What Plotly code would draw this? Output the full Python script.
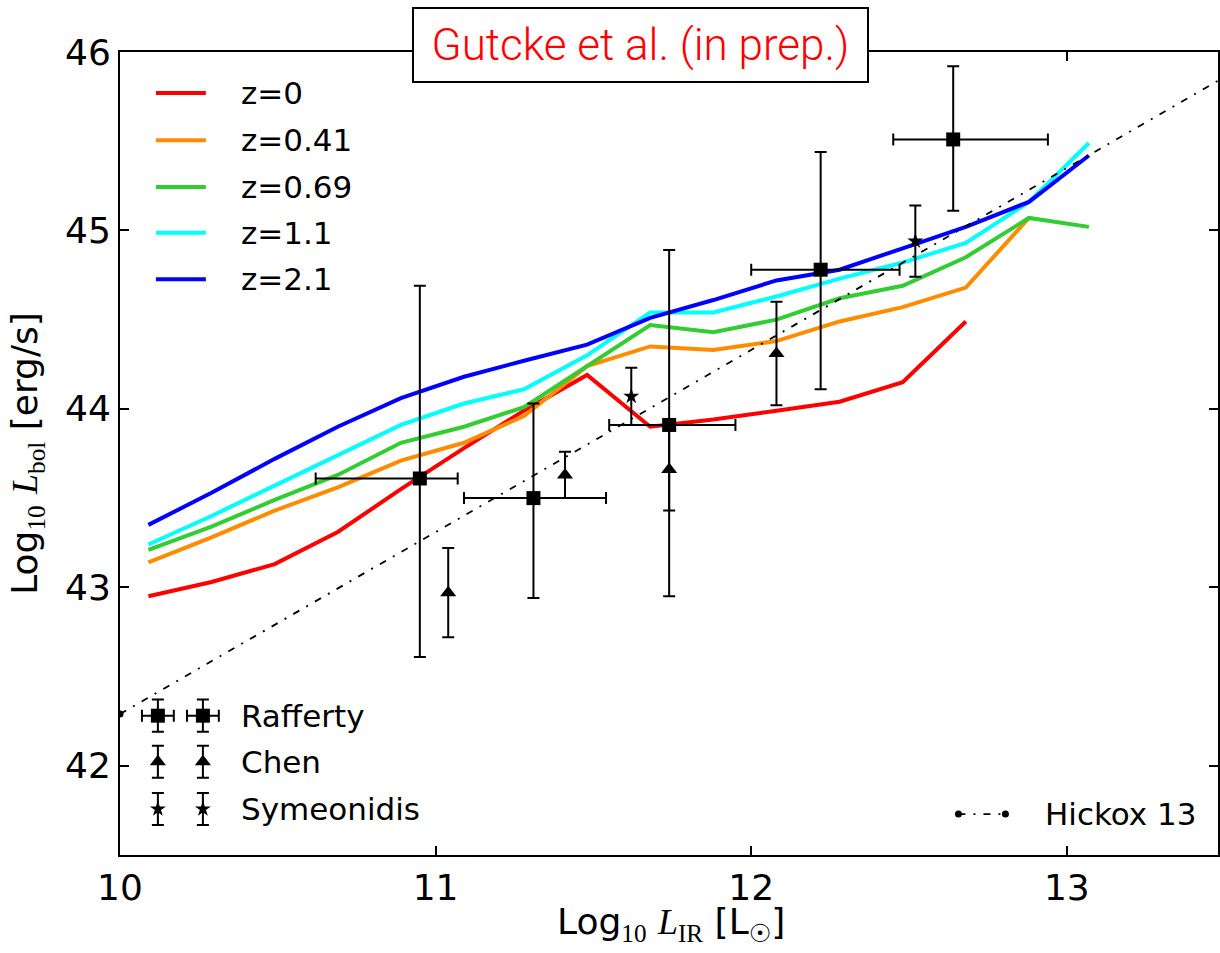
import plotly.graph_objects as go

# ---- simulation curves: log10 L_IR bin centres and log10 L_bol per redshift ----
lir_bins = [10.09, 10.29, 10.49, 10.69, 10.89, 11.09, 11.28, 11.48,
            11.68, 11.88, 12.08, 12.28, 12.48, 12.68, 12.88, 13.07]

lbol_z0 = [42.95, 43.03, 43.13, 43.31, 43.55, 43.78, 43.99, 44.19,
           43.90, 43.94, 43.99, 44.04, 44.15, 44.49]
lbol_z041 = [43.14, 43.28, 43.43, 43.56, 43.71, 43.81, 43.96, 44.24,
             44.35, 44.33, 44.38, 44.49, 44.57, 44.68, 45.07]
lbol_z069 = [43.21, 43.34, 43.49, 43.63, 43.81, 43.90, 44.01, 44.24,
             44.47, 44.43, 44.50, 44.62, 44.69, 44.85, 45.07, 45.02]
lbol_z11 = [43.24, 43.40, 43.57, 43.74, 43.91, 44.03, 44.11, 44.30,
            44.54, 44.54, 44.63, 44.73, 44.82, 44.93, 45.16, 45.49]
lbol_z21 = [43.35, 43.53, 43.72, 43.90, 44.06, 44.18, 44.27, 44.36,
            44.51, 44.61, 44.72, 44.78, 44.90, 45.02, 45.16, 45.42]

curve_labels = ["z=0", "z=0.41", "z=0.69", "z=1.1", "z=2.1"]
curve_colors = ["#ff0000", "#ff8c00", "#32cd32", "#00ffff", "#0000ff"]
curve_values = [lbol_z0, lbol_z041, lbol_z069, lbol_z11, lbol_z21]

# ---- observations ----
raf_x = [10.95, 11.31, 11.74, 12.22, 12.64]
raf_y = [43.61, 43.50, 43.91, 44.78, 45.51]
raf_xerr_minus = [0.33, 0.22, 0.19, 0.22, 0.19]
raf_xerr_plus = [0.12, 0.23, 0.21, 0.25, 0.30]
raf_yerr_minus = [1.00, 0.56, 0.96, 0.67, 0.40]
raf_yerr_plus = [1.08, 0.53, 0.98, 0.66, 0.41]

chen_x = [11.04, 11.41, 11.74, 12.08]
chen_y = [42.97, 43.63, 43.66, 44.31]
chen_yerr = [0.25, 0.13, 0.23, 0.29]

sym_x = [11.62, 12.52]
sym_y = [44.07, 44.94]
sym_yerr = [0.16, 0.20]

# Hickox et al. 2013 relation
hickox_x = [10.0, 13.5]
hickox_y = [42.29, 45.86]

x_ticks = [10, 11, 12, 13]
y_ticks = [42, 43, 44, 45, 46]

SANS = "DejaVu Sans"
SERIF = "Liberation Serif"
HICKOX_DASH = "7px,8px,2px,8px"

fig = go.Figure()

for vals, name, col in zip(curve_values, curve_labels, curve_colors):
    fig.add_trace(go.Scatter(
        x=lir_bins[:len(vals)], y=vals, mode="lines", name=name,
        line=dict(color=col, width=4), showlegend=False))

fig.add_trace(go.Scatter(
    x=hickox_x, y=hickox_y, mode="lines+markers", name="Hickox 13",
    line=dict(color="black", width=1.8, dash=HICKOX_DASH),
    marker=dict(color="black", size=7), cliponaxis=True, showlegend=False))

errstyle = dict(color="black", thickness=2, width=6)

fig.add_trace(go.Scatter(
    x=raf_x, y=raf_y, mode="markers", name="Rafferty",
    marker=dict(symbol="square", color="black", size=14),
    error_x=dict(type="data", symmetric=False, array=raf_xerr_plus,
                 arrayminus=raf_xerr_minus, **errstyle),
    error_y=dict(type="data", symmetric=False, array=raf_yerr_plus,
                 arrayminus=raf_yerr_minus, **errstyle),
    showlegend=False))

fig.add_trace(go.Scatter(
    x=chen_x, y=chen_y, mode="markers", name="Chen",
    marker=dict(symbol="triangle-up", color="black", size=14),
    error_y=dict(type="data", array=chen_yerr, **errstyle),
    showlegend=False))

fig.add_trace(go.Scatter(
    x=sym_x, y=sym_y, mode="markers", name="Symeonidis",
    marker=dict(symbol="star", color="black", size=12),
    error_y=dict(type="data", array=sym_yerr, **errstyle),
    showlegend=False))

# ---- hand-built legends on an overlay axis in plot-fraction units ----
leg_ax = dict(xaxis="x2", yaxis="y2", showlegend=False, hoverinfo="skip")
annotations = []

line_rows = [0.949, 0.890, 0.832, 0.775, 0.717]
for row, name, col in zip(line_rows, curve_labels, curve_colors):
    fig.add_trace(go.Scatter(x=[0.0327, 0.0782], y=[row, row], mode="lines",
                             line=dict(color=col, width=4), **leg_ax))
    annotations.append(dict(x=0.108, y=row, xref="paper", yref="paper",
                            text=name, showarrow=False, xanchor="left",
                            yanchor="middle",
                            font=dict(family=SANS, size=31, color="black")))

glyph_x = [0.0345, 0.0755]
obs_rows = [0.1735, 0.1162, 0.0573]
obs_names = ["Rafferty", "Chen", "Symeonidis"]
obs_symbols = ["square", "triangle-up", "star"]
obs_sizes = [14, 14, 12]
for i, (row, name, sym, sz) in enumerate(zip(obs_rows, obs_names, obs_symbols, obs_sizes)):
    tr = dict(x=glyph_x, y=[row, row], mode="markers",
              marker=dict(symbol=sym, color="black", size=sz),
              error_y=dict(type="constant", value=0.02, **errstyle))
    if i == 0:
        tr["error_x"] = dict(type="constant", value=0.0145, **errstyle)
    fig.add_trace(go.Scatter(**tr, **leg_ax))
    annotations.append(dict(x=0.108, y=row, xref="paper", yref="paper",
                            text=name, showarrow=False, xanchor="left",
                            yanchor="middle",
                            font=dict(family=SANS, size=31, color="black")))

fig.add_trace(go.Scatter(x=[0.7636, 0.8064], y=[0.051, 0.051], mode="lines+markers",
                         line=dict(color="black", width=1.8, dash=HICKOX_DASH),
                         marker=dict(color="black", size=7), **leg_ax))
annotations.append(dict(x=0.8409, y=0.051, xref="paper", yref="paper",
                        text="Hickox 13", showarrow=False, xanchor="left",
                        yanchor="middle",
                        font=dict(family=SANS, size=31, color="black")))

annotations.append(dict(x=0.4736, y=1.0087, xref="paper", yref="paper",
                        text="Gutcke et al. (in prep.)", showarrow=False,
                        xanchor="center", yanchor="middle",
                        width=451, height=70, borderpad=1, borderwidth=2,
                        bordercolor="black", bgcolor="white",
                        font=dict(family="Roboto", size=44, color="#ff0000",
                                  weight=300)))

def serif(s):
    return f'<span style="font-family:{SERIF}">{s}</span>'

x_title = ("Log<sub>" + serif("10") + "</sub> " + serif("<i>L</i>")
           + "<sub>" + serif("IR") + "</sub> [L<sub>\u2609</sub>]")
y_title = ("Log<sub>" + serif("10") + "</sub> " + serif("<i>L</i>")
           + "<sub>" + serif("bol") + "</sub> [erg/s]")

# x-axis title placed as an annotation so it sits just under the tick labels
annotations.append(dict(x=0.502, y=-0.086, xref="paper", yref="paper",
                        text=x_title, showarrow=False, xanchor="center",
                        yanchor="middle",
                        font=dict(family=SANS, size=36, color="black")))

axis_common = dict(showgrid=False, zeroline=False, showline=True,
                   linecolor="black", linewidth=2, mirror="ticks",
                   ticks="inside", ticklen=9, tickwidth=1.5, tickcolor="black",
                   tickfont=dict(family=SANS, size=36, color="black"))

fig.update_layout(
    width=1220, height=953,
    margin=dict(l=120, r=0, t=52, b=98),
    paper_bgcolor="white", plot_bgcolor="white",
    showlegend=False,
    xaxis=dict(range=[10, 13.479], tickvals=x_ticks, **axis_common),
    yaxis=dict(range=[41.5, 46], tickvals=y_ticks,
               title=dict(text=y_title, standoff=16,
                          font=dict(family=SANS, size=36, color="black")),
               **axis_common),
    xaxis2=dict(overlaying="x", range=[0, 1], visible=False),
    yaxis2=dict(overlaying="y", range=[0, 1], visible=False),
    annotations=annotations,
)

fig.write_html("out.html")
